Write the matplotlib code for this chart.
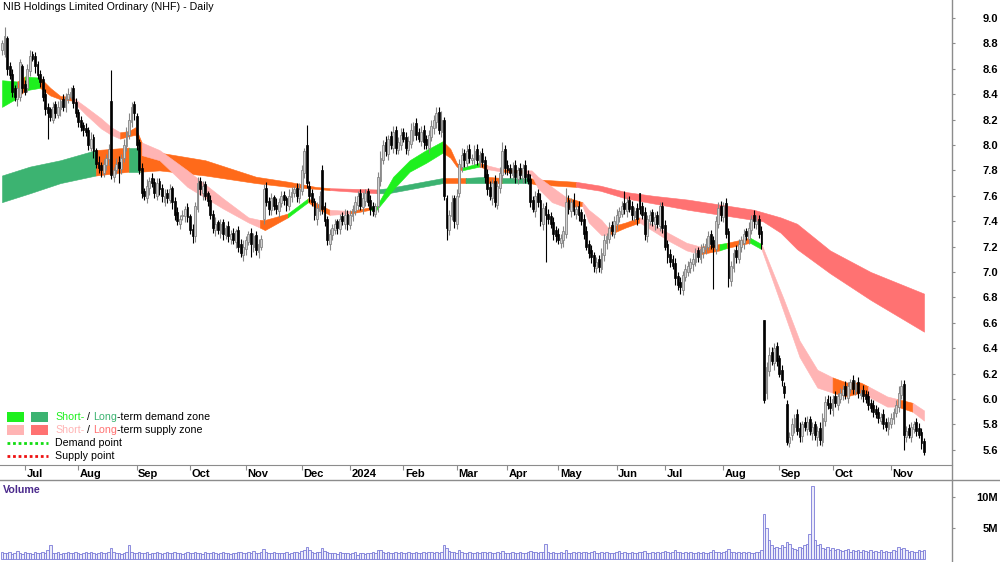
import numpy as np
import pandas as pd
import matplotlib
matplotlib.use('Agg')
import matplotlib.pyplot as plt
from matplotlib.lines import Line2D
from matplotlib.patches import Rectangle

W, H = 1000, 562
FONT = ['Liberation Sans', 'DejaVu Sans']
plt.rcParams['font.family'] = FONT
FS = 7.7

TITLE = 'NIB Holdings Limited Ordinary (NHF) - Daily'
HOLIDAYS = ['2023-12-25', '2023-12-26', '2024-01-01', '2024-01-26',
            '2024-03-29', '2024-04-01', '2024-04-25', '2024-06-10']

# daily prices in cents
opens = [
    875, 872, 884, 862, 856, 845, 836, 838, 862, 848,
    845, 858, 872, 870, 864, 856, 852, 840, 830, 828,
    820, 832, 824, 828, 836, 830, 836, 838, 845, 834,
    826, 820, 816, 813, 812, 798, 806, 796, 787, 784,
    778, 784, 789, 835, 775, 780, 787, 781, 790, 799,
    808, 818, 832, 823, 802, 782, 764, 758, 766, 774,
    771, 760, 772, 766, 755, 762, 757, 766, 756, 747,
    738, 744, 744, 751, 744, 734, 728, 750, 772, 762,
    769, 762, 757, 746, 733, 739, 731, 739, 729, 736,
    726, 731, 724, 733, 722, 713, 718, 724, 731, 720,
    729, 716, 720, 742, 766, 756, 749, 759, 753, 748,
    754, 761, 758, 752, 759, 762, 766, 758, 764, 778,
    800, 768, 762, 756, 742, 748, 780, 752, 742, 722,
    729, 733, 740, 734, 744, 738, 746, 737, 744, 748,
    753, 762, 751, 756, 764, 757, 752, 746, 752, 772,
    788, 802, 793, 807, 798, 812, 796, 800, 810, 806,
    796, 801, 808, 817, 810, 803, 812, 805, 798, 806,
    813, 818, 826, 810, 820, 758, 733, 744, 758, 738,
    762, 783, 794, 786, 797, 788, 789, 797, 786, 794,
    788, 777, 767, 758, 772, 753, 766, 776, 797, 784,
    782, 776, 784, 773, 782, 774, 784, 777, 773, 757,
    748, 762, 757, 738, 752, 746, 744, 739, 733, 730,
    723, 725, 730, 757, 748, 757, 746, 752, 747, 742,
    732, 722, 717, 713, 703, 710, 702, 713, 723, 726,
    737, 730, 738, 743, 746, 754, 748, 757, 752, 743,
    750, 762, 752, 747, 728, 740, 747, 738, 745, 736,
    752, 737, 722, 714, 710, 707, 697, 692, 686, 696,
    700, 703, 706, 708, 717, 710, 716, 718, 720, 730,
    725, 718, 738, 752, 743, 754, 732, 693, 703, 717,
    710, 720, 723, 732, 726, 733, 745, 738, 742, 732,
    662, 605, 622, 637, 628, 642, 632, 623, 610, 596,
    565, 572, 578, 588, 577, 571, 582, 576, 584, 573,
    580, 570, 577, 566, 583, 600, 597, 591, 602, 595,
    600, 603, 610, 601, 608, 615, 606, 613, 603, 607,
    604, 602, 597, 595, 592, 590, 583, 588, 582, 576,
    580, 584, 589, 594, 603, 612, 570, 577, 570, 576,
    582, 577, 574, 567,
]
closes = [
    880, 886, 860, 855, 842, 838, 845, 865, 845, 842,
    860, 870, 868, 862, 855, 850, 838, 828, 825, 822,
    830, 825, 830, 835, 830, 838, 840, 842, 833, 825,
    818, 814, 812, 810, 800, 805, 795, 785, 782, 780,
    785, 790, 797, 776, 780, 785, 782, 790, 800, 810,
    820, 830, 825, 800, 780, 762, 760, 768, 772, 770,
    762, 770, 765, 760, 760, 758, 765, 755, 745, 740,
    742, 745, 750, 743, 733, 728, 752, 770, 765, 768,
    760, 756, 745, 735, 738, 733, 738, 730, 735, 728,
    730, 725, 732, 720, 715, 720, 725, 730, 722, 728,
    717, 722, 726, 765, 755, 750, 758, 752, 750, 755,
    760, 757, 753, 760, 763, 765, 760, 765, 780, 795,
    770, 760, 755, 745, 750, 760, 750, 740, 725, 730,
    735, 738, 735, 742, 740, 745, 738, 745, 750, 755,
    760, 752, 758, 762, 755, 750, 748, 752, 775, 790,
    800, 795, 805, 800, 810, 798, 802, 808, 805, 798,
    803, 812, 815, 808, 805, 810, 802, 800, 808, 815,
    820, 825, 812, 820, 760, 735, 745, 755, 740, 760,
    785, 792, 788, 795, 790, 790, 795, 788, 792, 787,
    775, 765, 760, 770, 755, 768, 778, 795, 782, 780,
    778, 782, 775, 780, 776, 782, 775, 772, 755, 750,
    760, 755, 740, 750, 745, 742, 738, 730, 728, 725,
    727, 732, 755, 750, 755, 748, 750, 745, 740, 730,
    720, 715, 712, 705, 708, 704, 715, 725, 728, 735,
    732, 740, 745, 748, 752, 750, 755, 750, 745, 748,
    742, 750, 745, 730, 742, 745, 740, 743, 738, 752,
    735, 720, 712, 708, 705, 695, 690, 688, 698, 702,
    705, 708, 710, 715, 712, 718, 720, 722, 728, 722,
    720, 740, 750, 745, 752, 730, 695, 705, 715, 712,
    722, 725, 730, 728, 735, 742, 740, 740, 730, 722,
    599, 625, 635, 630, 640, 630, 620, 615, 605, 566,
    570, 580, 585, 575, 570, 580, 578, 582, 575, 578,
    572, 575, 568, 585, 598, 595, 593, 600, 597, 602,
    605, 608, 603, 610, 613, 608, 612, 605, 605, 602,
    600, 595, 593, 590, 588, 585, 586, 580, 578, 582,
    585, 590, 595, 605, 610, 572, 575, 572, 578, 580,
    575, 572, 565, 558,
]
# wick lengths above / below the body, cents
upper_wick = [
    3, 7, 2, 3, 4, 2, 5, 3, 2, 3,  4, 5, 2, 3, 2, 3, 2, 4, 3, 2,
    4, 3, 5, 2, 4, 3, 5, 4, 2, 3,  2, 3, 2, 4, 2, 5, 3, 2, 4, 3,
    4, 3, 4, 24, 3, 5, 4, 3, 5, 4,  5, 4, 3, 2, 3, 4, 2, 5, 3, 4,
    3, 4, 2, 3, 5, 3, 4, 2, 3, 4,  3, 4, 2, 3, 2, 4, 3, 5, 3, 4,
    3, 2, 4, 3, 5, 2, 4, 3, 2, 4,  3, 4, 2, 3, 4, 5, 3, 2, 4, 3,
    3, 4, 3, 4, 5, 3, 4, 2, 5, 3,  4, 3, 2, 5, 4, 3, 4, 5, 4, 3,
    16, 4, 3, 2, 5, 4, 4, 3, 2, 4,  3, 4, 2, 4, 3, 5, 3, 4, 3, 5,
    4, 3, 5, 3, 2, 4, 3, 2, 4, 5,  4, 5, 3, 4, 5, 3, 4, 5, 3, 4,
    4, 5, 3, 4, 3, 5, 4, 3, 4, 5,  4, 5, 4, 7, 2, 3, 4, 6, 3, 5,
    4, 6, 3, 5, 4, 3, 5, 4, 3, 4,  3, 4, 5, 3, 4, 4, 5, 7, 3, 4,
    3, 5, 4, 3, 4, 3, 4, 3, 4, 3,  4, 3, 5, 4, 3, 4, 3, 4, 3, 5,
    3, 4, 11, 4, 3, 5, 3, 4, 3, 4,  4, 3, 4, 3, 4, 3, 4, 5, 3, 4,
    3, 4, 5, 3, 4, 10, 4, 3, 4, 3,  4, 0, 3, 4, 3, 4, 3, 4, 3, 3,
    3, 4, 3, 4, 3, 4, 3, 4, 3, 4,  4, 3, 5, 4, 3, 4, 3, 5, 4, 3,
    3, 4, 5, 4, 3, 4, 3, 4, 3, 4,  4, 3, 4, 3, 4, 3, 4, 5, 3, 4,
    0, 4, 6, 4, 4, 3, 3, 4, 3, 3,  4, 5, 3, 4, 5, 3, 4, 5, 3, 4,
    3, 4, 5, 4, 4, 3, 5, 3, 4, 3,  4, 3, 4, 3, 3, 4, 3, 4, 3, 4,
    3, 4, 3, 4, 3, 4, 3, 4, 3, 4,  4, 3, 4, 5, 5, 3, 4, 3, 4, 3,
    3, 4, 3, 2,
]
lower_wick = [
    4, 3, 5, 3, 4, 3, 5, 3, 4, 3,  3, 4, 2, 5, 3, 4, 3, 4, 20, 3,
    3, 4, 3, 5, 3, 4, 3, 2, 4, 3,  4, 3, 5, 3, 4, 3, 5, 3, 4, 5,
    3, 4, 5, 3, 4, 3, 12, 4, 3, 4,  3, 4, 5, 4, 3, 4, 3, 4, 5, 3,
    4, 3, 4, 5, 3, 4, 3, 5, 4, 3,  4, 3, 5, 4, 3, 5, 4, 3, 4, 5,
    3, 4, 3, 4, 5, 3, 4, 5, 3, 4,  4, 3, 5, 4, 3, 4, 5, 3, 10, 4,
    4, 5, 3, 4, 3, 5, 4, 3, 4, 5,  3, 4, 5, 3, 4, 3, 5, 4, 3, 4,
    4, 5, 3, 4, 5, 3, 4, 4, 4, 5,  4, 3, 5, 4, 3, 4, 5, 3, 4, 3,
    4, 3, 5, 4, 3, 5, 4, 3, 5, 4,  3, 4, 5, 3, 4, 5, 3, 4, 3, 5,
    4, 3, 5, 4, 3, 4, 5, 3, 4, 3,  4, 5, 3, 4, 3, 10, 4, 3, 5, 4,
    3, 4, 5, 3, 4, 3, 5, 4, 3, 4,  5, 4, 3, 5, 4, 3, 4, 3, 5, 4,
    4, 3, 5, 4, 3, 4, 5, 3, 4, 3,  5, 4, 4, 5, 37, 4, 3, 5, 4, 3,
    4, 5, 3, 4, 5, 3, 4, 5, 3, 4,  3, 4, 5, 5, 4, 4, 3, 4, 5, 3,
    4, 3, 5, 4, 3, 4, 5, 3, 4, 3,  5, 4, 3, 5, 4, 3, 4, 5, 3, 4,
    4, 3, 5, 4, 3, 5, 4, 5, 4, 3,  3, 4, 5, 3, 4, 3, 5, 4, 3, 4,
    33, 4, 3, 5, 4, 3, 7, 4, 3, 5,  3, 4, 5, 3, 4, 3, 5, 4, 3, 4,
    2, 5, 4, 3, 5, 4, 3, 5, 4, 2,  3, 4, 5, 3, 4, 5, 3, 4, 3, 5,
    4, 7, 4, 3, 4, 3, 5, 4, 3, 4,  3, 4, 3, 4, 3, 4, 3, 4, 3, 4,
    3, 4, 3, 4, 3, 4, 3, 4, 3, 4,  3, 4, 3, 4, 3, 12, 4, 3, 4, 3,
    4, 3, 4, 2,
]
# volume, tenths of a million shares
volume = [
    12, 10, 9, 11, 8, 10, 13, 9, 8, 11,  9, 10, 8, 12, 9, 10, 11, 9, 14, 23,
    10, 9, 11, 8, 10, 9, 12, 10, 9, 11,  10, 8, 9, 11, 10, 12, 9, 8, 10, 11,
    9, 10, 12, 18, 11, 9, 10, 8, 9, 12,  23, 11, 10, 9, 12, 10, 9, 11, 8, 10,
    9, 11, 10, 8, 10, 12, 9, 10, 11, 9,  10, 8, 9, 11, 10, 9, 12, 10, 9, 8,
    11, 9, 10, 12, 9, 8, 10, 11, 9, 10,  8, 10, 9, 11, 12, 10, 9, 11, 10, 13,
    9, 10, 11, 16, 12, 10, 9, 11, 10, 9,  10, 9, 11, 8, 10, 12, 11, 9, 13, 15,
    20, 14, 11, 10, 12, 11, 17, 13, 11, 10,  9, 10, 8, 11, 10, 9, 10, 8, 9, 11,
    7, 9, 10, 8, 9, 10, 11, 9, 14, 15,  12, 10, 11, 9, 10, 12, 9, 11, 10, 9,
    11, 10, 9, 12, 10, 9, 11, 10, 12, 11,  10, 12, 9, 11, 22, 18, 13, 11, 12, 10,
    14, 11, 10, 9, 11, 10, 9, 12, 10, 11,  12, 10, 11, 9, 10, 11, 9, 13, 10, 9,
    10, 11, 9, 10, 12, 9, 10, 11, 13, 12,  11, 10, 12, 11, 25, 12, 10, 11, 9, 10,
    11, 10, 14, 10, 9, 11, 10, 12, 10, 11,  12, 10, 11, 13, 10, 9, 11, 10, 12, 10,
    9, 10, 11, 13, 10, 12, 9, 10, 11, 10,  10, 12, 11, 13, 10, 9, 11, 10, 12, 10,
    11, 13, 12, 10, 11, 14, 12, 11, 10, 11,  10, 11, 9, 10, 12, 10, 11, 9, 10, 11,
    15, 12, 11, 10, 12, 13, 16, 12, 11, 10,  11, 10, 12, 10, 11, 9, 10, 12, 11, 14,
    72, 50, 30, 22, 18, 20, 17, 22, 19, 28,  25, 18, 16, 15, 20, 17, 22, 25, 40, 117,
    30, 22, 25, 18, 16, 20, 15, 17, 14, 16,  15, 13, 14, 16, 12, 15, 13, 14, 12, 15,
    13, 12, 14, 12, 13, 11, 14, 12, 13, 12,  12, 14, 13, 20, 16, 18, 14, 12, 13, 11,
    12, 14, 13, 15,
]

# short-term zone: sample day, lower edge, upper edge, colour of the stretch that follows
short_day = [0, 6, 9, 15, 19, 23, 27.5, 33, 39, 43, 46.5, 50, 52.5, 55, 62, 73, 87, 97,
             101.5, 103.5, 112.5, 120.5, 124, 129, 137, 145, 147.5, 154, 160.5, 167,
             173.5, 176.5, 179, 181, 188, 191, 197, 205, 208.5, 211, 216.5, 222, 228.5,
             231, 236, 238.5, 245.5, 251, 263, 269.5, 275, 282.5, 285.5, 294.5, 299,
             307.5, 314, 321, 327, 332.5, 338, 341, 348.5, 352.5, 358.5, 363]
short_lo = [8.30, 8.37, 8.43, 8.45, 8.39, 8.36, 8.35, 8.24, 8.13, 8.08, 8.05, 8.07, 8.08,
            7.92, 7.88, 7.67, 7.50, 7.39, 7.35, 7.33, 7.43, 7.55, 7.50, 7.45, 7.46, 7.49,
            7.49, 7.65, 7.79, 7.86, 7.94, 7.90, 7.83, 7.80, 7.83, 7.81, 7.79, 7.78, 7.76,
            7.66, 7.55, 7.51, 7.52, 7.39, 7.29, 7.29, 7.35, 7.39, 7.24, 7.17, 7.14, 7.17,
            7.19, 7.23, 7.18, 6.70, 6.33, 6.09, 6.05, 6.02, 6.05, 6.02, 5.94, 5.94, 5.90,
            5.83]
short_hi = [8.51, 8.50, 8.54, 8.53, 8.45, 8.385, 8.38, 8.30, 8.21, 8.14, 8.10, 8.11, 8.14,
            8.02, 7.96, 7.80, 7.58, 7.43, 7.41, 7.41, 7.46, 7.58, 7.54, 7.49, 7.48, 7.51,
            7.52, 7.75, 7.88, 7.96, 8.03, 7.97, 7.86, 7.82, 7.86, 7.84, 7.81, 7.80, 7.80,
            7.75, 7.67, 7.59, 7.55, 7.49, 7.41, 7.35, 7.39, 7.43, 7.30, 7.23, 7.20, 7.22,
            7.23, 7.27, 7.22, 6.80, 6.46, 6.23, 6.17, 6.13, 6.13, 6.10, 6.02, 6.00, 5.97,
            5.91]
short_kind = 'GOGOOOPPPPOOOPPPPPOOGOOPOGGGGGOOOGOPOPPPPOPPPOOPPPOGOGPPPPOOOPPOPP'

# long-term zone
long_day = [0, 11, 23, 37, 50, 54.5, 62, 80, 100, 113, 123.5, 129, 147.5, 152, 173.5,
            182.5, 190.5, 197, 208, 210, 226, 235.5, 245.5, 256.5, 270, 283, 296, 299.5,
            306.5, 313, 326, 342, 363]
long_lo = [7.55, 7.62, 7.70, 7.76, 7.79, 7.79, 7.80, 7.76, 7.70, 7.67, 7.655, 7.645, 7.62,
           7.62, 7.70, 7.70, 7.70, 7.70, 7.70, 7.69, 7.67, 7.64, 7.58, 7.54, 7.49, 7.45,
           7.41, 7.40, 7.31, 7.18, 6.99, 6.78, 6.53]
long_hi = [7.76, 7.83, 7.88, 7.96, 7.98, 7.98, 7.94, 7.88, 7.75, 7.71, 7.67, 7.66, 7.65,
           7.66, 7.74, 7.74, 7.75, 7.74, 7.74, 7.73, 7.71, 7.68, 7.63, 7.60, 7.57, 7.53,
           7.49, 7.47, 7.43, 7.38, 7.17, 7.00, 6.83]
long_kind = 'DDDODOOOOOORDDODODOORRRRRRRRRRRRR'

ZONE_COLORS = {'G': '#1ef01e', 'D': '#3cb371', 'P': '#ffb4b4', 'R': '#ff7272', 'O': '#ff6a1a'}
GRID = '#8c8c8c'
UP_EDGE = '#858585'


def px(x, y):
    return x / W, 1 - y / H


def draw_zone(ax, day, lo, hi, kind):
    start = 0
    for k in range(1, len(day)):
        if k == len(day) - 1 or kind[k] != kind[start]:
            sl = slice(start, k + 1)
            ax.fill_between(day[sl], lo[sl], hi[sl], color=ZONE_COLORS[kind[start]],
                            lw=0.4, ec=ZONE_COLORS[kind[start]], zorder=1)
            start = k


def rich_text(fig, x, y, parts, size):
    renderer = fig.canvas.get_renderer()
    for s, c in parts:
        t = fig.text(*px(x, y), s, color=c, fontsize=size, va='center', ha='left')
        x += t.get_window_extent(renderer).width


o = np.array(opens) / 100
c = np.array(closes) / 100
hi = np.maximum(o, c) + np.array(upper_wick) / 100
lo = np.minimum(o, c) - np.array(lower_wick) / 100
vol = np.array(volume) / 10
n = len(c)
days = np.arange(n)
dates = pd.bdate_range('2023-06-20', '2024-11-20', freq='C', holidays=HOLIDAYS)[:n]

fig = plt.figure(figsize=(W / 100, H / 100), dpi=100)
ax = fig.add_axes([0, 1 - 465 / H, 952 / W, 465 / H])
dax = fig.add_axes([0, 1 - 480 / H, 952 / W, 15 / H])
vax = fig.add_axes([0, 0, 952 / W, (H - 480) / H])
xlim = (-2 / 2.54, 950 / 2.54)

# zones
draw_zone(ax, np.array(long_day), np.array(long_lo), np.array(long_hi), long_kind)
draw_zone(ax, np.array(short_day), np.array(short_lo), np.array(short_hi), short_kind)

# candles
up = c >= o
ax.vlines(days[up], lo[up], hi[up], color=UP_EDGE, lw=0.8, zorder=2)
ax.vlines(days[~up], lo[~up], hi[~up], color='black', lw=0.8, zorder=2)
body = np.maximum(np.abs(c - o), 0.006)
ax.bar(days[up], body[up], bottom=o[up], width=0.72, color='#d2d2d2',
       edgecolor=UP_EDGE, linewidth=0.6, zorder=3)
ax.bar(days[~up], body[~up], bottom=c[~up], width=0.72, color='black',
       edgecolor='black', linewidth=0.5, zorder=3)

ax.set_xlim(*xlim)
ax.set_ylim(9.0 - 447 / 127, 9.0 + 18 / 127)
ax.yaxis.tick_right()
ax.set_yticks(np.round(np.arange(5.6, 9.01, 0.2), 1))
ax.set_yticklabels([f'{v:.1f}' for v in np.arange(5.6, 9.01, 0.2)])
ax.tick_params(axis='y', direction='out', length=2.5, color=GRID, pad=30.5,
               labelsize=8)
for lbl in ax.get_yticklabels():
    lbl.set_horizontalalignment('right')
    lbl.set_fontweight('bold')
ax.set_xticks([])
for side in ['left', 'top', 'right']:
    ax.spines[side].set_visible(False)
ax.spines['bottom'].set_color(GRID)

# date strip
month_idx = [i for i in range(1, n) if dates[i].month != dates[i - 1].month]
dax.set_xlim(*xlim)
dax.set_ylim(0, 1)
dax.axis('off')
dax.vlines(month_idx, 0.68, 1.0, color=GRID, lw=0.8)
for i in month_idx:
    d = dates[i]
    label = str(d.year) if d.month == 1 else d.strftime('%b')
    dax.text(i + 0.6, 0.42, label, ha='left', va='center', fontsize=8,
             fontweight='bold')

# volume: outlined bars sitting side by side
vax.bar(days, vol, width=1.0, color='#ececfa', edgecolor='#7b7bd8', linewidth=0.6)
vax.set_xlim(*xlim)
vax.set_ylim(-(562 - 559) / 6.2, (559 - 480) / 6.2)
vax.yaxis.tick_right()
vax.set_yticks([5, 10])
vax.set_yticklabels(['5M', '10M'])
vax.tick_params(axis='y', direction='out', length=2.5, color=GRID, pad=30.5,
                labelsize=8)
for lbl in vax.get_yticklabels():
    lbl.set_horizontalalignment('right')
    lbl.set_fontweight('bold')
vax.set_xticks([])
for side in vax.spines:
    vax.spines[side].set_visible(False)

# frame lines
fig.add_artist(Line2D([952 / W, 952 / W], [0, 1], color=GRID, lw=1))
fig.add_artist(Line2D([0, 1], [1 - 480 / H] * 2, color=GRID, lw=1))

fig.text(*px(3, 7), TITLE, fontsize=FS, va='center', ha='left')
fig.text(*px(3, 490), 'Volume', fontsize=FS, va='center', ha='left',
         color='#4b2a8c', fontweight='bold')

# legend
for (x0, y0, col) in [(7, 412, 'G'), (31, 412, 'D'), (7, 425, 'P'), (31, 425, 'R')]:
    fig.add_artist(Rectangle(px(x0, y0 + 10), 17 / W, 10 / H, transform=fig.transFigure,
                             color=ZONE_COLORS[col], lw=0))
fig.add_artist(Line2D([7 / W, 48 / W], [1 - 443 / H] * 2, color='#11dd11', lw=2,
                      ls=(0, (1, 1))))
fig.add_artist(Line2D([7 / W, 48 / W], [1 - 456 / H] * 2, color='#ee1111', lw=2,
                      ls=(0, (1, 1))))
rich_text(fig, 55, 417, [('Short-', ZONE_COLORS['G']), (' / ', 'black'),
                         ('Long', ZONE_COLORS['D']), ('-term demand zone', 'black')], FS)
rich_text(fig, 55, 430, [('Short-', ZONE_COLORS['P']), (' / ', 'black'),
                         ('Long', ZONE_COLORS['R']), ('-term supply zone', 'black')], FS)
fig.text(*px(55, 443), 'Demand point', fontsize=FS, va='center', ha='left')
fig.text(*px(55, 456), 'Supply point', fontsize=FS, va='center', ha='left')

fig.savefig('out.png', dpi=100)
